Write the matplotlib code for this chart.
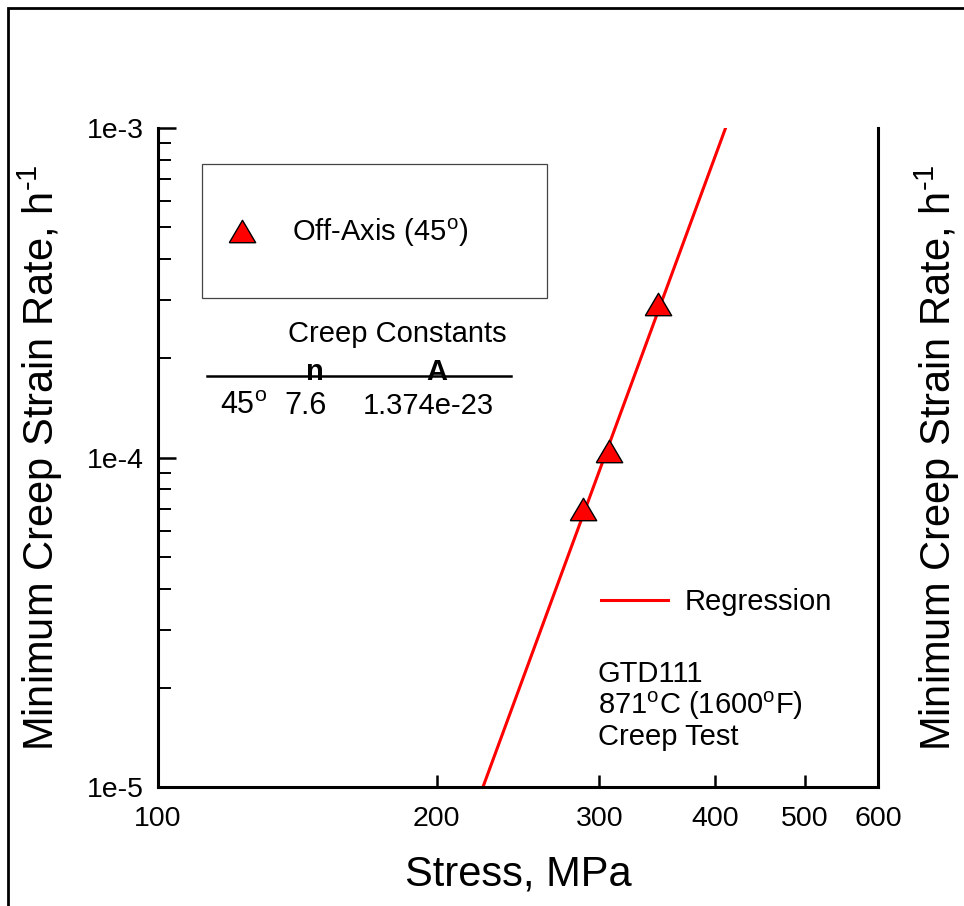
import matplotlib
matplotlib.use("Agg")
import matplotlib.pyplot as plt
from matplotlib.patches import Rectangle
from matplotlib.lines import Line2D
from matplotlib.ticker import FixedLocator, FixedFormatter, LogLocator, NullLocator, NullFormatter

plt.rcParams['font.family'] = ['Liberation Sans', 'DejaVu Sans']
plt.rcParams['mathtext.fontset'] = 'custom'
plt.rcParams['mathtext.rm'] = 'Liberation Sans'
plt.rcParams['mathtext.it'] = 'Liberation Sans:italic'
plt.rcParams['mathtext.bf'] = 'Liberation Sans:bold'

# measured creep data (off-axis 45 deg specimens)
stress = [288, 307, 347]
strain_rate = [7.0e-5, 1.05e-4, 2.92e-4]

# regression line end points (n = 7.6, A = 1.374e-23)
reg_stress = [224.5, 410.6]
reg_rate = [1e-5, 1e-3]

x_ticks = [100, 200, 300, 400, 500, 600]
x_tick_labels = ['100', '200', '300', '400', '500', '600']
y_ticks = [1e-5, 1e-4, 1e-3]
y_tick_labels = ['1e-5', '1e-4', '1e-3']

table_angle = r'45$^{\rm o}$'
table_n = '7.6'
table_A = '1.374e-23'

ylab = r'Minimum Creep Strain Rate, h$^{\text{-1}}$'

# triangle a bit flatter than the default '^'
tri = [(-1, -0.85), (1, -0.85), (0, 0.85), (-1, -0.85)]

fig = plt.figure(figsize=(9.64, 9.06), dpi=100)
ax = fig.add_axes([158/964, 1-787/906, 720/964, 659/906])

ax.plot(reg_stress, reg_rate, color='red', lw=2.2, zorder=2)
ax.plot(stress, strain_rate, linestyle='none', marker=tri, ms=19,
        mfc='red', mec='black', mew=1.0, zorder=3)

ax.set_xscale('log')
ax.set_yscale('log')
ax.set_xlim(100, 600)
ax.set_ylim(1e-5, 1e-3)

ax.xaxis.set_major_locator(FixedLocator(x_ticks))
ax.xaxis.set_major_formatter(FixedFormatter(x_tick_labels))
ax.xaxis.set_minor_locator(NullLocator())
ax.yaxis.set_major_locator(FixedLocator(y_ticks))
ax.yaxis.set_major_formatter(FixedFormatter(y_tick_labels))
ax.yaxis.set_minor_locator(LogLocator(base=10, subs=range(2, 10)))
ax.yaxis.set_minor_formatter(NullFormatter())

ax.spines['top'].set_visible(False)
for s in ['left', 'right', 'bottom']:
    ax.spines[s].set_linewidth(2.2)

ax.tick_params(axis='x', which='major', direction='in', length=9, width=1.8,
               labelsize=20.5, pad=14, top=False)
ax.tick_params(axis='y', which='major', direction='in', length=13, width=1.8,
               labelsize=20.5, pad=10, right=True)
ax.tick_params(axis='y', which='minor', direction='in', length=9.5, width=1.4,
               right=True)

ax.set_xlabel('Stress, MPa', fontsize=30, labelpad=16)
ax.set_ylabel(ylab, fontsize=30, labelpad=16)

# duplicate label on the right
ax2 = ax.twinx()
ax2.set_yscale('log')
ax2.set_ylim(1e-5, 1e-3)
ax2.yaxis.set_major_locator(NullLocator())
ax2.yaxis.set_minor_locator(NullLocator())
ax2.spines['top'].set_visible(False)
ax2.set_ylabel(ylab, fontsize=30, rotation=90, labelpad=25)

# legend box for the data
ax.add_patch(Rectangle((0.0611, 0.742), 0.4792, 0.2034, transform=ax.transAxes,
                       fill=False, edgecolor='#444444', lw=0.9, zorder=4))
h_data = Line2D([], [], linestyle='none', marker=tri, ms=19, mfc='red',
                mec='black', mew=1.0)
leg1 = ax.legend([h_data], [r'Off-Axis (45$^{\rm o}$)'], loc='center left',
                 bbox_to_anchor=(0.097, 0.841), frameon=False, fontsize=21,
                 borderpad=0, borderaxespad=0, handlelength=1.0, handletextpad=1.2)
ax.add_artist(leg1)

h_reg = Line2D([], [], color='red', lw=2.2)
ax.legend([h_reg], ['Regression'], loc='center left', bbox_to_anchor=(0.615, 0.281),
          frameon=False, fontsize=21, borderpad=0, borderaxespad=0,
          handlelength=2.3, handletextpad=0.58)

# creep constants table
ax.text(0.332, 0.675, 'Creep Constants', transform=ax.transAxes, fontsize=21,
        ha='center', va='baseline')
ax.plot([0.068, 0.4903], [0.6237, 0.6237], transform=ax.transAxes, color='black',
        lw=1.8, clip_on=False)
ax.text(0.2181, 0.6176, 'n', transform=ax.transAxes, fontsize=21, fontweight='bold',
        ha='center', va='baseline')
ax.text(0.3875, 0.6176, 'A', transform=ax.transAxes, fontsize=21, fontweight='bold',
        ha='center', va='baseline')
ax.text(0.1194, 0.566, table_angle, transform=ax.transAxes, fontsize=22,
        ha='center', va='baseline')
ax.text(0.2049, 0.566, table_n, transform=ax.transAxes, fontsize=22,
        ha='center', va='baseline')
ax.text(0.376, 0.566, table_A, transform=ax.transAxes, fontsize=21,
        ha='center', va='baseline')

ax.text(0.611, 0.1927, 'GTD111\n871$^{\\rm o}$C (1600$^{\\rm o}$F)\nCreep Test',
        transform=ax.transAxes, fontsize=21, ha='left', va='top', linespacing=1.05)

# outer frame (runs off the right and bottom edges)
fig.patches.append(Rectangle((8/964, -0.1), 1.2, 1.1 - 8/906, transform=fig.transFigure,
                             fill=False, edgecolor='black', lw=2.0))

fig.savefig('out.png', dpi=100)
